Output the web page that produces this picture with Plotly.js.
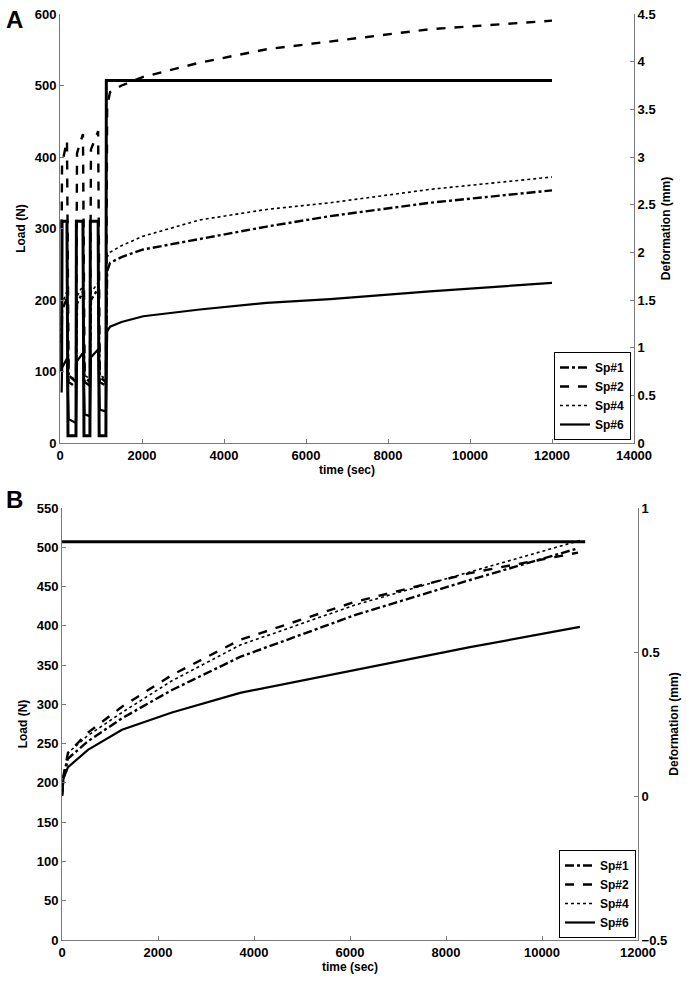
<!DOCTYPE html>
<html>
<head>
<meta charset="utf-8">
<script src="https://cdn.plot.ly/plotly-3.0.1.min.js"></script>
<style>html,body{margin:0;padding:0;background:#fff;}#chart{width:690px;height:981px;}</style>
</head>
<body>
<div id="chart"></div>
<script>
// ---------- Panel A data ----------
var loadA_t = [40, 50, 170, 195, 390, 400, 560, 585, 730, 740, 930, 955, 1120, 1130, 12000];
var loadA_N = [100, 310, 310, 10, 10, 310, 310, 10, 10, 310, 310, 10, 10, 507, 507];

var defA_t = [40, 50, 170, 195, 210, 390, 400, 415, 560, 585, 600, 730, 740, 755, 930, 955, 970, 1120, 1130, 1150, 1220, 1500, 2030, 3410, 5040, 6590, 9020, 12000];
var sp1A = [1.05, 1.39, 1.52, 0.75, 0.64, 0.585, 1.35, 1.46, 1.59, 0.75, 0.64, 0.60, 1.39, 1.50, 1.62, 0.75, 0.64, 0.60, 1.50, 1.80, 1.89, 1.95, 2.03, 2.14, 2.27, 2.38, 2.52, 2.65];
var sp2A = [2.25, 2.93, 3.17, 0.90, 0.71, 0.64, 2.85, 3.04, 3.24, 0.90, 0.69, 0.64, 2.89, 3.08, 3.27, 0.90, 0.69, 0.64, 3.00, 3.53, 3.68, 3.75, 3.84, 3.99, 4.13, 4.21, 4.34, 4.43];
var sp4A = [1.13, 1.46, 1.59, 0.83, 0.71, 0.66, 1.43, 1.54, 1.65, 0.83, 0.71, 0.675, 1.46, 1.58, 1.68, 0.83, 0.71, 0.675, 1.58, 1.95, 2.00, 2.07, 2.17, 2.34, 2.45, 2.52, 2.66, 2.79];
var sp6A = [0.53, 0.79, 0.885, 0.375, 0.25, 0.21, 0.79, 0.86, 0.945, 0.41, 0.30, 0.28, 0.825, 0.90, 0.98, 0.45, 0.35, 0.33, 0.90, 1.17, 1.22, 1.27, 1.33, 1.40, 1.47, 1.51, 1.59, 1.68];

// ---------- Panel B data ----------
var loadB_t = [0, 10900];
var loadB_N = [507, 507];

var sp1B_t = [0, 30, 125, 540, 1250, 2290, 3710, 6100, 8500, 10750];
var sp1B = [0.0, 0.06, 0.13, 0.19, 0.27, 0.368, 0.483, 0.628, 0.75, 0.86];
var sp2B_t = [0, 30, 125, 540, 1250, 2290, 3710, 6100, 8500, 10750];
var sp2B = [0.0, 0.07, 0.15, 0.22, 0.31, 0.42, 0.542, 0.674, 0.774, 0.845];
var sp4B_t = [0, 30, 125, 540, 1250, 2290, 3710, 6100, 8500, 10850];
var sp4B = [0.0, 0.07, 0.15, 0.21, 0.29, 0.40, 0.524, 0.663, 0.778, 0.89];
var sp6B_t = [0, 30, 125, 540, 1250, 2290, 3710, 6100, 8500, 10790];
var sp6B = [0.0, 0.06, 0.10, 0.16, 0.23, 0.29, 0.358, 0.437, 0.517, 0.587];

var names = ['Sp#1', 'Sp#2', 'Sp#4', 'Sp#6'];

var FONT = 'Liberation Sans, Arial, sans-serif';
var styles = [
  {dash: 'dashdot', width: 2.4},
  {dash: 'dash', width: 2.4},
  {dash: 'dot', width: 1.6},
  {dash: 'solid', width: 2.2}
];

function defTrace(x, y, i, xa, ya, leg) {
  return {x: x, y: y, name: names[i], type: 'scatter', mode: 'lines',
    xaxis: xa, yaxis: ya, legend: leg,
    line: {color: '#000', dash: styles[i].dash, width: styles[i].width}};
}

var traces = [
  {x: loadA_t, y: loadA_N, type: 'scatter', mode: 'lines', xaxis: 'x', yaxis: 'y', showlegend: false,
   line: {color: '#000', width: 3}},
  defTrace(defA_t, sp1A, 0, 'x', 'y2', 'legend'),
  defTrace(defA_t, sp2A, 1, 'x', 'y2', 'legend'),
  defTrace(defA_t, sp4A, 2, 'x', 'y2', 'legend'),
  defTrace(defA_t, sp6A, 3, 'x', 'y2', 'legend'),
  {x: loadB_t, y: loadB_N, type: 'scatter', mode: 'lines', xaxis: 'x2', yaxis: 'y3', showlegend: false,
   line: {color: '#000', width: 3}},
  defTrace(sp1B_t, sp1B, 0, 'x2', 'y4', 'legend2'),
  defTrace(sp2B_t, sp2B, 1, 'x2', 'y4', 'legend2'),
  defTrace(sp4B_t, sp4B, 2, 'x2', 'y4', 'legend2'),
  defTrace(sp6B_t, sp6B, 3, 'x2', 'y4', 'legend2')
];

var tickf = {family: FONT, size: 13, color: '#000', weight: 'bold'};
var titlef = {family: FONT, size: 12, color: '#000', weight: 'bold'};
function ax(extra) {
  var base = {showline: true, linecolor: '#7a7a7a', linewidth: 1, ticks: 'inside', ticklen: 4,
    tickcolor: '#7a7a7a', showgrid: false, zeroline: false, tickfont: tickf, mirror: false,
    tickformat: 'd', exponentformat: 'none'};
  for (var k in extra) base[k] = extra[k];
  return base;
}

var legendStyle = function (x, y) {
  return {x: x, y: y, xanchor: 'right', yanchor: 'bottom', bgcolor: '#fff', bordercolor: '#000', borderwidth: 1,
    font: {family: FONT, size: 12, color: '#000', weight: 'bold'}, tracegroupgap: 0};
};

var layout = {
  width: 690, height: 981,
  margin: {l: 0, r: 0, t: 0, b: 0},
  paper_bgcolor: '#fff', plot_bgcolor: '#fff',
  showlegend: true,
  xaxis: ax({domain: [60/690, 634/690], range: [0, 14000], dtick: 2000, anchor: 'y',
    title: {text: 'time (sec)', font: titlef, standoff: 2}}),
  yaxis: ax({domain: [1 - 443/981, 1 - 14/981], range: [0, 600], dtick: 100, anchor: 'x',
    title: {text: 'Load (N)', font: titlef, standoff: 6}}),
  yaxis2: ax({domain: [1 - 443/981, 1 - 14/981], range: [0, 4.5], dtick: 0.5, anchor: 'x', overlaying: 'y', side: 'right',
    tickformat: '', title: {text: 'Deformation (mm)', font: titlef, standoff: 6}}),
  xaxis2: ax({domain: [62/690, 638/690], range: [0, 12000], dtick: 2000, anchor: 'y3',
    title: {text: 'time (sec)', font: titlef, standoff: 2}}),
  yaxis3: ax({domain: [1 - 940/981, 1 - 508/981], range: [0, 550], dtick: 50, anchor: 'x2',
    title: {text: 'Load (N)', font: titlef, standoff: 6}}),
  yaxis4: ax({domain: [1 - 940/981, 1 - 508/981], range: [-0.5, 1], dtick: 0.5, anchor: 'x2', overlaying: 'y3', side: 'right',
    tickformat: '', title: {text: 'Deformation (mm)', font: titlef, standoff: 3}}),
  legend: legendStyle(631/690, 1 - 440/981),
  legend2: legendStyle(636/690, 1 - 938/981),
  annotations: [
    {text: 'A', xref: 'paper', yref: 'paper', x: 4/690, y: 1 - 4/981, xanchor: 'left', yanchor: 'top', showarrow: false,
     font: {family: FONT, size: 24, color: '#000', weight: 'bold'}},
    {text: 'B', xref: 'paper', yref: 'paper', x: 4/690, y: 1 - 484/981, xanchor: 'left', yanchor: 'top', showarrow: false,
     font: {family: FONT, size: 24, color: '#000', weight: 'bold'}}
  ]
};

Plotly.newPlot('chart', traces, layout, {displayModeBar: false, staticPlot: true});
</script>
</body>
</html>
